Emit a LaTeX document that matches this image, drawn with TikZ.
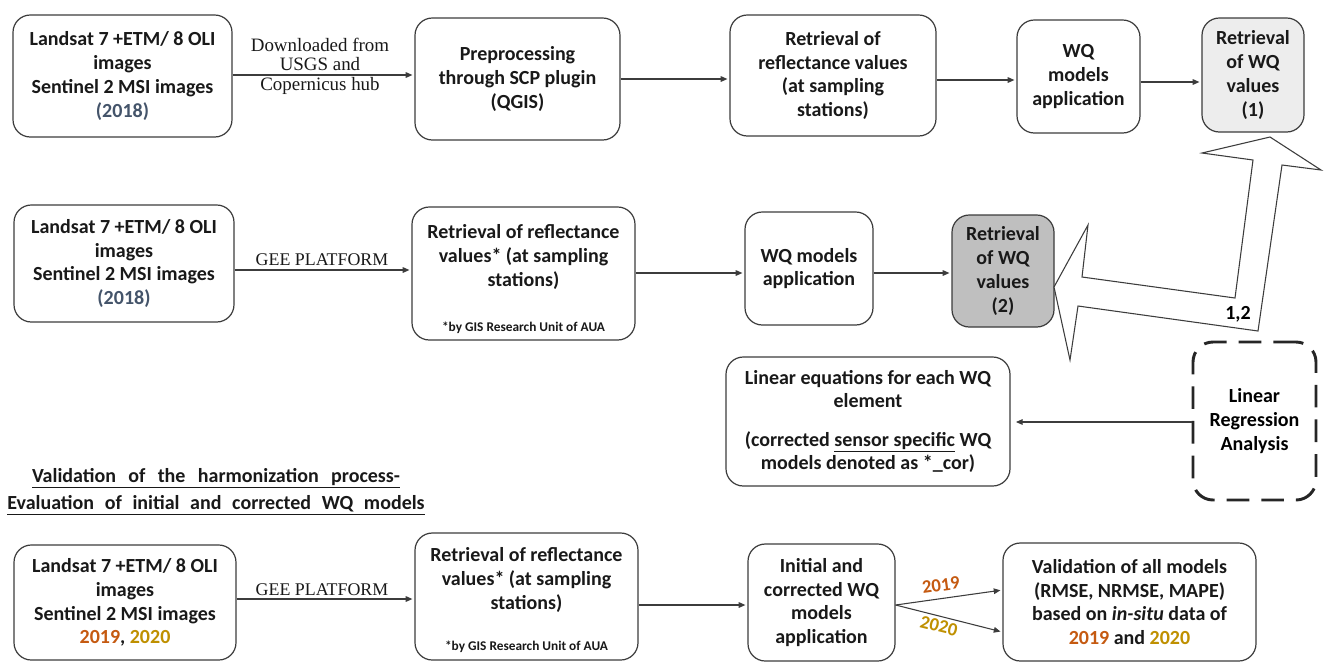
\documentclass[tikz,border=0pt]{standalone}
\usepackage{fontspec}
\setmainfont{Carlito}
\newfontfamily\seriffont{Liberation Serif}
\usetikzlibrary{arrows.meta,calc}
\definecolor{ln}{HTML}{3C3C3C}
\definecolor{yr}{HTML}{44546A}
\definecolor{ya}{HTML}{C55A11}
\definecolor{yb}{HTML}{BF9000}
\definecolor{lg}{HTML}{EDEDED}
\definecolor{dg}{HTML}{BFBFBF}
\newcommand{\mainf}{\fontsize{15}{17.8}\selectfont\bfseries}
\newcommand{\footf}{\fontsize{10}{11}\selectfont\bfseries}
\newcommand{\serf}{\fontsize{14.2}{14.6}\selectfont\seriffont}
\newcommand{\gerf}{\fontsize{13.4}{14}\selectfont\seriffont}
\begin{document}
\begin{tikzpicture}[x=0.75pt,y=-0.75pt,
  box/.style={draw=ln, line width=0.9pt, rounded corners=13pt, inner sep=0pt, align=center, font=\mainf, text=black!90},
  sz/.style 2 args={minimum width=#1*0.75pt, minimum height=#2*0.75pt},
  arr/.style={draw=ln, line width=0.8pt, -{Triangle[length=5pt,width=4.2pt]}, shorten >=1.5pt},
  edgelab/.style={align=center, inner sep=0pt, text=black!90},
  yrlab/.style={font=\fontsize{14}{15}\selectfont\bfseries, inner sep=0pt}
]
\fill[white] (0,0) rectangle (1325,662);
\useasboundingbox (0,0) rectangle (1325,662);

% ---------- Row 1
\node[box, sz={219}{122}] (A1) at (122.5,76) {Landsat 7 +ETM/ 8 OLI\\images\\Sentinel 2 MSI images\\\textcolor{yr}{(2018)}};
\node[box, sz={205}{122}] (B1) at (517.5,79) {Preprocessing\\through SCP plugin\\(QGIS)};
\node[box, sz={206}{121}] (C1) at (833,75.5) {Retrieval of\\reflectance values\\(at sampling\\stations)};
\node[box, sz={123}{113}] (D1) at (1078.5,76.5) {WQ\\models\\application};
\node[box, sz={102}{114}, fill=lg] (E1) at (1253,75) {Retrieval\\of WQ\\values\\(1)};

\draw[arr] (A1.east |- 0,75) -- (B1.west |- 0,75);
\node[edgelab, font=\serf] (L1) at (320,66) {Downloaded from\\USGS and\\Copernicus hub};
\draw[arr] (B1.east |- 0,79) -- (C1.west |- 0,79);
\draw[arr] (C1.east |- 0,80) -- (D1.west |- 0,80);
\draw[arr] (D1.east |- 0,82) -- (E1.west |- 0,82);

% ---------- Row 2
\node[box, sz={220}{117}] (A2) at (124,263.5) {Landsat 7 +ETM/ 8 OLI\\images\\Sentinel 2 MSI images\\\textcolor{yr}{(2018)}};
\node[box, sz={223}{133}] (B2) at (523.5,273.5) {Retrieval of reflectance\\values* (at sampling\\stations)\\[9pt]\mbox{}};
\node[font=\footf, inner sep=0pt, text=black!90] (fn2) at (523.5,328) {*by GIS Research Unit of AUA};
\node[box, sz={128}{113}] (C2) at (809,268.5) {WQ models\\application};
\node[box, sz={102}{112}, fill=dg] (E2) at (1003,271) {Retrieval\\of WQ\\values\\(2)};

\draw[arr] (A2.east |- 0,270) -- (B2.west |- 0,270);
\node[edgelab, font=\gerf] (L2) at (322,260) {GEE PLATFORM};
\draw[arr] (B2.east |- 0,273) -- (C2.west |- 0,273);
\draw[arr] (C2.east |- 0,273) -- (E2.west |- 0,273);

% ---------- big double arrow
\draw[ln, line width=0.8pt, fill=white, line join=miter]
  (1270,137) -- (1202,153) -- (1253,160) -- (1235,298) -- (1082,277) -- (1088,225)
  -- (1054,287) -- (1070,360) -- (1078,306) -- (1258,331) -- (1282,165) -- (1321,170) -- cycle;
\node[font=\mainf, inner sep=0pt] (L12) at (1238,314) {1,2};

% ---------- regression
\node[box, sz={284}{129}] (F) at (868,421.5) {Linear equations for each WQ\\element\\[11pt](corrected \underline{sensor specific} WQ\\models denoted as *\_cor)};
\node[draw=black!85, line width=2.2pt, dash pattern=on 17pt off 9pt, rounded corners=15pt, sz={123}{158}, align=center, font=\mainf, inner sep=0pt] (G) at (1254.5,421) {Linear\\Regression\\Analysis};
\draw[arr, shorten >=4pt] (G.west |- 0,422) -- (F.east |- 0,422);

% ---------- heading
\node[font=\mainf, inner sep=0pt, text=black!90] (H1) at (216,478) {\underline{\makebox[276pt][s]{Validation of the harmonization process-}}};
\node[font=\mainf, inner sep=0pt, text=black!90] (H2) at (216,505) {\underline{\makebox[313pt][s]{Evaluation of initial and corrected WQ models}}};

% ---------- Row 3
\node[box, sz={222}{115}] (A3) at (125,602.5) {Landsat 7 +ETM/ 8 OLI\\images\\Sentinel 2 MSI images\\\textcolor{ya}{2019}, \textcolor{yb}{2020}};
\node[box, sz={223}{127}] (B3) at (526.5,596.5) {Retrieval of reflectance\\values* (at sampling\\stations)\\[9pt]\mbox{}};
\node[font=\footf, inner sep=0pt, text=black!90] (fn3) at (526.5,647) {*by GIS Research Unit of AUA};
\node[box, sz={147}{117}] (C3) at (821.5,602.5) {Initial and\\corrected WQ\\models\\application};
\node[box, sz={253}{118}] (D3) at (1129.5,602) {Validation of all models\\(RMSE, NRMSE, MAPE)\\based on \textit{in-situ} data of\\\textcolor{ya}{2019} and \textcolor{yb}{2020}};

\draw[arr] (A3.east |- 0,599) -- (B3.west |- 0,599);
\node[edgelab, font=\gerf] (L3) at (322,590) {GEE PLATFORM};
\draw[arr] (B3.east |- 0,605) -- (C3.west |- 0,605);
\draw[arr] (C3.east |- 0,605) -- (D3.west |- 0,590);
\draw[arr] (C3.east |- 0,605) -- (D3.west |- 0,632);
\node[yrlab, text=ya, rotate=8] (Y19) at (941,585) {2019};
\node[yrlab, text=yb, rotate=-14] (Y20) at (939,626) {2020};
\end{tikzpicture}
\end{document}
